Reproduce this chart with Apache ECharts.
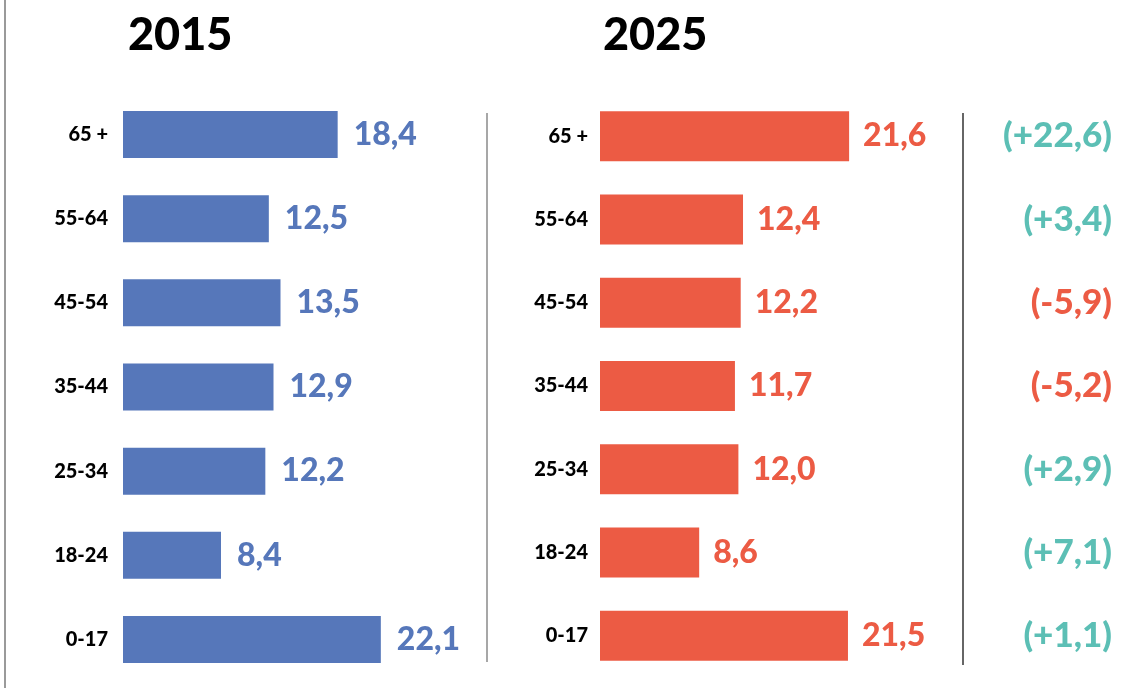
<!DOCTYPE html>
<html>
<head>
<meta charset="utf-8">
<script src="https://cdn.jsdelivr.net/npm/echarts@6/dist/echarts.min.js"></script>
<style>
html,body{margin:0;padding:0;background:#fff;}
#chart{width:1147px;height:688px;}
</style>
</head>
<body>
<div id="chart"></div>
<script>
// Data
const categories = ["65 +", "55-64", "45-54", "35-44", "25-34", "18-24", "0-17"];
const values2015 = [18.4, 12.5, 13.5, 12.9, 12.2, 8.4, 22.1];
const values2025 = [21.6, 12.4, 12.2, 11.7, 12.0, 8.6, 21.5];
const changes = [22.6, 3.4, -5.9, -5.2, 2.9, 7.1, 1.1];
const titles = ["2015", "2025"];

const BLUE = '#5677BA', RED = '#EC5B44', TEAL = '#5CBFB5';
const FONT = 'Lato, "DejaVu Sans", sans-serif';
const fmt = v => v.toFixed(1).replace('.', ',');
const fmtChange = v => '(' + (v >= 0 ? '+' : '-') + fmt(Math.abs(v)) + ')';

const chart = echarts.init(document.getElementById('chart'), null, {renderer: 'canvas'});
chart.setOption({
  backgroundColor: '#fff',
  animation: false,
  title: [
    {text: titles[0], left: 123, top: 8, textStyle: {fontFamily: FONT, fontSize: 45, fontWeight: 900, color: '#000'}},
    {text: titles[1], left: 598, top: 8, textStyle: {fontFamily: FONT, fontSize: 45, fontWeight: 900, color: '#000'}}
  ],
  grid: [
    {left: 123, right: 674, top: 92.5, bottom: 6.5},
    {left: 600, right: 201, top: 94.5, bottom: 10.5}
  ],
  xAxis: [
    {gridIndex: 0, type: 'value', min: 0, max: 30, show: false},
    {gridIndex: 1, type: 'value', min: 0, max: 30, show: false}
  ],
  yAxis: [
    {gridIndex: 0, type: 'category', inverse: true, data: categories,
     axisLine: {show: false}, axisTick: {show: false}, splitLine: {show: false},
     axisLabel: {margin: 15, color: '#000', fontFamily: FONT, fontSize: 20, fontWeight: 900, padding: [0, 0, 6, 0]}},
    {gridIndex: 1, type: 'category', inverse: true, data: categories,
     axisLine: {show: false}, axisTick: {show: false}, splitLine: {show: false},
     axisLabel: {margin: 12, color: '#000', fontFamily: FONT, fontSize: 20, fontWeight: 900, padding: [0, 0, 8, 0]}},
    {gridIndex: 1, type: 'category', inverse: true, position: 'right', data: changes.map(fmtChange),
     axisLine: {show: false}, axisTick: {show: false}, splitLine: {show: false},
     axisLabel: {margin: 166, align: 'right', fontFamily: FONT, fontSize: 35, fontWeight: 900,
       color: function (val, idx) { return changes[idx] < 0 ? RED : TEAL; }}}
  ],
  graphic: [
    {type: 'line', shape: {x1: 5, y1: 0, x2: 5, y2: 688}, style: {stroke: '#9a9a9a', lineWidth: 2}},
    {type: 'line', shape: {x1: 487, y1: 113, x2: 487, y2: 662}, style: {stroke: '#8a8a8a', lineWidth: 1.5}},
    {type: 'line', shape: {x1: 963, y1: 113, x2: 963, y2: 665}, style: {stroke: '#333', lineWidth: 1.5}}
  ],
  series: [
    {type: 'bar', xAxisIndex: 0, yAxisIndex: 0, data: values2015, barWidth: 47,
     itemStyle: {color: BLUE},
     label: {show: true, position: 'right', distance: 16, color: BLUE, fontFamily: FONT, fontSize: 32, fontWeight: 900,
       formatter: p => fmt(p.value)}},
    {type: 'bar', xAxisIndex: 1, yAxisIndex: 1, data: values2025, barWidth: 50,
     itemStyle: {color: RED},
     label: {show: true, position: 'right', distance: 14, color: RED, fontFamily: FONT, fontSize: 32, fontWeight: 900,
       formatter: p => fmt(p.value)}}
  ]
});
</script>
</body>
</html>
